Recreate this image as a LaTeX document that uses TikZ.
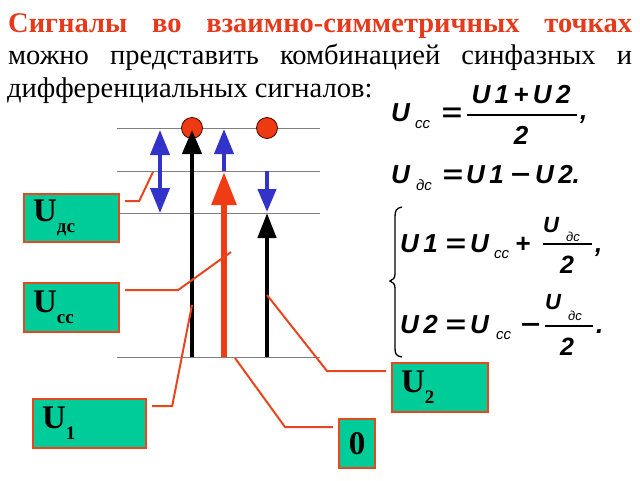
\documentclass[tikz,border=0pt]{standalone}
\usepackage{fontspec}
\setmainfont{Liberation Serif}
\newfontfamily\arialf{Liberation Sans}
\usetikzlibrary{arrows.meta}
\definecolor{titlered}{HTML}{E63A1C}
\definecolor{boxgreen}{HTML}{00CC99}
\definecolor{boxborder}{HTML}{E8461E}
\definecolor{arrowblue}{HTML}{3333CC}
\definecolor{arrowred}{HTML}{F03C14}
\definecolor{dotred}{HTML}{EE3A12}
\definecolor{linegray}{HTML}{7F7F7F}
\newcommand{\weq}{\scalebox{1.35}[1]{=}}
\newcommand{\wminus}{\scalebox{1.3}[1]{−}}
\begin{document}
\begin{tikzpicture}[x=1pt,y=-1pt,
  hline/.style={draw=linegray, line width=1pt},
  dot/.style={circle, fill=dotred, draw=black!70!red, line width=0.8pt, minimum size=21pt, inner sep=0pt},
  bluearrow/.style={draw=arrowblue, line width=4pt, -{Triangle[width=19pt,length=25pt]}, arrowblue},
  blackarrow/.style={draw=black, line width=4.5pt, -{Triangle[width=19pt,length=24pt]}},
  redarrow/.style={draw=arrowred, line width=6pt, -{Triangle[width=24pt,length=33pt]}, arrowred},
  lbox/.style={draw=boxborder, fill=boxgreen, line width=2.2pt, anchor=north west, inner ysep=0pt, inner xsep=9pt, align=left, font=\bfseries\fontsize{33}{33}\selectfont},
  conn/.style={draw=boxborder, line width=2pt},
  fm/.style={anchor=base west, inner sep=0pt, font=\arialf\bfseries\itshape\fontsize{26}{26}\selectfont},
  fsub/.style={anchor=base west, inner sep=0pt, font=\arialf\itshape\fontsize{15}{15}\selectfont},
  fnum/.style={anchor=base west, inner sep=0pt, font=\arialf\bfseries\itshape\fontsize{22}{22}\selectfont},
  fnsub/.style={anchor=base west, inner sep=0pt, font=\arialf\itshape\fontsize{13}{13}\selectfont},
  fden/.style={anchor=base west, inner sep=0pt, font=\arialf\bfseries\itshape\fontsize{25}{25}\selectfont},
  fbar/.style={draw=black, line width=1.2pt},
  ttl/.style={anchor=base west, inner sep=0pt, font=\fontsize{28.5}{28.5}\selectfont}]
\useasboundingbox (0,0) rectangle (640,480);
\fill[white] (0,0) rectangle (640,480);

% title
\node[ttl, text=titlered, font=\bfseries\fontsize{28.5}{28.5}\selectfont] (t1) at (8,32) {\makebox[624pt][s]{Сигналы во взаимно-симметричных точках}};
\node[ttl] (t2) at (8,64) {\makebox[624pt][s]{можно представить комбинацией синфазных и}};
\node[ttl] (t3) at (7,97) {дифференциальных сигналов:};

% horizontal levels
\coordinate (l1a) at (117,128); \coordinate (l1b) at (320,128);
\coordinate (l2a) at (117,171); \coordinate (l2b) at (320,171);
\coordinate (l3a) at (117,213); \coordinate (l3b) at (320,213);
\coordinate (l4a) at (117,357); \coordinate (l4b) at (320,357);
\draw[hline] (l1a) -- (l1b);
\draw[hline] (l2a) -- (l2b);
\draw[hline] (l3a) -- (l3b);
\draw[hline] (l4a) -- (l4b);

% points
\node[dot] (c1) at (192,128) {};
\node[dot] (c2) at (267,128) {};

% arrows
\coordinate (d1) at (160,130); \coordinate (d2) at (160,213);
\draw[draw=arrowblue, line width=4pt, {Triangle[width=19pt,length=25pt]}-{Triangle[width=19pt,length=25pt]}, arrowblue] (d1) -- (d2);
\coordinate (k1s) at (192,357); \coordinate (k1e) at (192,130);
\draw[blackarrow] (k1s) -- (k1e);
\coordinate (b2s) at (224,171); \coordinate (b2e) at (224,129);
\draw[bluearrow] (b2s) -- (b2e);
\coordinate (rs) at (224,357); \coordinate (re) at (224,172);
\draw[redarrow] (rs) -- (re);
\coordinate (b3s) at (267,171); \coordinate (b3e) at (267,212);
\draw[bluearrow, -{Triangle[width=18pt,length=23pt]}] (b3s) -- (b3e);
\coordinate (k2s) at (267,357); \coordinate (k2e) at (267,213);
\draw[blackarrow, -{Triangle[width=18pt,length=25pt]}] (k2s) -- (k2e);

% label boxes
\node[lbox, minimum height=48pt, text width=77pt] (udc) at (23,193) {U\raisebox{-11pt}{\fontsize{19}{19}\selectfont дс}};
\node[lbox, minimum height=49pt, text width=77pt] (ucc) at (23,282) {U\raisebox{-11pt}{\fontsize{19}{19}\selectfont сс}};
\node[lbox, minimum height=49pt, text width=95pt] (u1) at (32,398) {U\raisebox{-11pt}{\fontsize{19}{19}\selectfont 1}};
\node[lbox, minimum height=49pt, text width=78pt] (u2) at (391,362) {U\raisebox{-11pt}{\fontsize{19}{19}\selectfont 2}};
\node[lbox, minimum height=49pt, minimum width=36pt, inner xsep=0pt, align=center] (zero) at (338,418) {0};

% connectors
\coordinate (pdc) at (153,172);
\coordinate (pcc) at (231,252);
\coordinate (p1) at (192,305);
\coordinate (p0) at (235,358);
\coordinate (p2) at (267,295);
\draw[conn] ([xshift=5pt,yshift=-8pt]udc.north east) -- ++(14,0) -- (pdc);
\draw[conn] ([xshift=5pt,yshift=-8pt]ucc.north east) -- ++(53,0) -- (pcc);
\draw[conn] ([xshift=5pt,yshift=-8pt]u1.north east) -- ++(20,0) -- (p1);
\draw[conn] ([xshift=-5pt,yshift=-9pt]zero.north west) -- ++(-48,0) -- (p0);
\draw[conn] ([xshift=-5pt,yshift=-9pt]u2.north west) -- ++(-59,0) -- (p2);

% formula 1
\node[fm] (a1) at (391,121) {U};
\node[fsub] (a2) at (415,128) {сс};
\node[fm] (a3) at (441,121) {\weq};
\node[fm, anchor=base] (a4) at (521,103) {U\,1\,+\,U\,2};
\coordinate (a5l) at (467,115); \coordinate (a5r) at (577,115);
\draw[fbar] (a5l) -- (a5r);
\node[fm, anchor=base] (a6) at (521,144) {2};
\node[fm] (a7) at (580,119) {,};

% formula 2
\node[fm] (g1) at (391,183) {U};
\node[fsub] (g2) at (416,190) {дс};
\node[fm] (g3) at (442,183) {\weq};
\node[fm] (g4) at (466,183) {U\,1};
\node[fm] (g5) at (510,183) {\wminus};
\node[fm] (g6) at (535,183) {U\,2.};

% system brace
\draw[line width=1.3pt] (402,207) .. controls (396,208) and (395,211) .. (395,217) -- (395,274) .. controls (395,278) and (393,280) .. (390,281) .. controls (393,282) and (395,284) .. (395,288) -- (395,348) .. controls (395,354) and (396,356) .. (402,357);

% system line 1
\node[fm] (s1) at (400,252) {U\,1};
\node[fm] (s2) at (445,252) {\weq};
\node[fm] (s3) at (470,252) {U};
\node[fsub] (s4) at (494,258) {сс};
\node[fm] (s5) at (515,252) {+};
\node[fnum] (s6) at (543,232) {U};
\node[fnsub] (s7) at (566,241) {дс};
\coordinate (s8l) at (543,244); \coordinate (s8r) at (592,244);
\draw[fbar] (s8l) -- (s8r);
\node[fden] (s9) at (560,273) {2};
\node[fm] (s10) at (595,252) {,};

% system line 2
\node[fm] (r1) at (400,333) {U\,2};
\node[fm] (r2) at (445,333) {\weq};
\node[fm] (r3) at (470,333) {U};
\node[fsub] (r4) at (496,339) {сс};
\node[fm] (r5) at (520,333) {\wminus};
\node[fnum] (r6) at (545,309) {U};
\node[fnsub] (r7) at (568,320) {дс};
\coordinate (r8l) at (545,326); \coordinate (r8r) at (593,326);
\draw[fbar] (r8l) -- (r8r);
\node[fden] (r9) at (560,355) {2};
\node[fm] (r10) at (596,333) {.};
\end{tikzpicture}
\end{document}
